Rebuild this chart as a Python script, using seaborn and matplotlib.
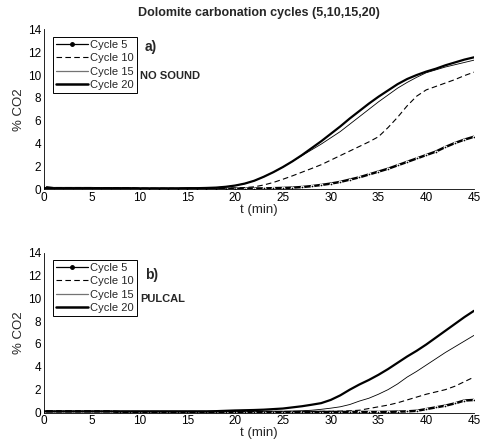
import matplotlib
matplotlib.use("Agg")
import matplotlib.pyplot as plt
from matplotlib.lines import Line2D
import seaborn as sns
import numpy as np

# time axis (min)
t = list(range(46))

# panel a) NO SOUND
a_c5 = [0.2, 0.1, 0.1, 0.1, 0.1, 0.1, 0.08, 0.08, 0.08, 0.08, 0.06, 0.05, 0.05, 0.05, 0.05, 0.05,
        0.05, 0.05, 0.05, 0.05, 0.06, 0.06, 0.07, 0.08, 0.1, 0.12, 0.15, 0.2, 0.28, 0.38,
        0.5, 0.65, 0.85, 1.05, 1.3, 1.55, 1.8, 2.1, 2.4, 2.7, 3.0, 3.3, 3.7, 4.05, 4.35, 4.6]
a_c10 = [0.1, 0.1, 0.1, 0.1, 0.1, 0.1, 0.1, 0.1, 0.1, 0.1, 0.08, 0.08, 0.08, 0.08, 0.08, 0.08,
         0.08, 0.08, 0.09, 0.1, 0.12, 0.15, 0.22, 0.38, 0.6, 0.88, 1.18, 1.5, 1.82, 2.15,
         2.55, 2.95, 3.35, 3.75, 4.15, 4.6, 5.4, 6.3, 7.3, 8.15, 8.7, 9.0, 9.3, 9.6, 9.95, 10.25]
a_c15 = [0.1, 0.1, 0.1, 0.1, 0.1, 0.1, 0.1, 0.1, 0.1, 0.1, 0.08, 0.08, 0.08, 0.08, 0.08, 0.1,
         0.1, 0.12, 0.15, 0.22, 0.33, 0.5, 0.75, 1.1, 1.5, 1.95, 2.45, 2.95, 3.45, 3.95,
         4.5, 5.05, 5.7, 6.35, 7.0, 7.65, 8.25, 8.85, 9.35, 9.8, 10.2, 10.45, 10.7, 10.9, 11.1, 11.3]
a_c20 = [0.1, 0.1, 0.1, 0.1, 0.1, 0.1, 0.1, 0.1, 0.1, 0.1, 0.08, 0.08, 0.08, 0.08, 0.08, 0.1,
         0.1, 0.12, 0.15, 0.22, 0.33, 0.5, 0.75, 1.1, 1.5, 1.95, 2.45, 3.0, 3.6, 4.2,
         4.85, 5.5, 6.2, 6.85, 7.5, 8.1, 8.65, 9.2, 9.65, 10.0, 10.3, 10.55, 10.85, 11.1, 11.35, 11.55]

# panel b) PULCAL
b_c5 = [0.1, 0.1, 0.1, 0.1, 0.1, 0.1, 0.1, 0.1, 0.05, 0.05, 0.05, 0.05, 0.05, 0.05, 0.05, 0.05,
        0.05, 0.05, 0.05, 0.05, 0.05, 0.05, 0.05, 0.05, 0.05, 0.05, 0.05, 0.05, 0.05, 0.05,
        0.05, 0.05, 0.05, 0.05, 0.05, 0.05, 0.06, 0.08, 0.1, 0.15, 0.3, 0.45, 0.6, 0.8, 1.05, 1.1]
b_c10 = [0.1, 0.1, 0.1, 0.1, 0.1, 0.1, 0.1, 0.1, 0.08, 0.08, 0.08, 0.08, 0.08, 0.08, 0.08, 0.08,
         0.08, 0.08, 0.08, 0.08, 0.08, 0.08, 0.08, 0.08, 0.08, 0.08, 0.08, 0.08, 0.08, 0.1,
         0.1, 0.12, 0.15, 0.2, 0.35, 0.5, 0.65, 0.85, 1.1, 1.35, 1.6, 1.8, 2.0, 2.3, 2.7, 3.1]
b_c15 = [0.1, 0.1, 0.1, 0.1, 0.1, 0.1, 0.1, 0.1, 0.1, 0.1, 0.1, 0.1, 0.1, 0.1, 0.1, 0.1,
         0.1, 0.1, 0.1, 0.1, 0.1, 0.1, 0.1, 0.1, 0.1, 0.1, 0.12, 0.15, 0.2, 0.28,
         0.38, 0.5, 0.7, 1.0, 1.25, 1.6, 2.0, 2.5, 3.1, 3.6, 4.15, 4.7, 5.25, 5.75, 6.25, 6.75]
b_c20 = [0.1, 0.1, 0.1, 0.1, 0.1, 0.1, 0.1, 0.1, 0.1, 0.1, 0.1, 0.1, 0.1, 0.1, 0.1, 0.1,
         0.1, 0.1, 0.12, 0.15, 0.18, 0.2, 0.22, 0.25, 0.3, 0.35, 0.45, 0.55, 0.68, 0.82,
         1.1, 1.5, 2.0, 2.45, 2.85, 3.3, 3.8, 4.35, 4.9, 5.4, 5.95, 6.55, 7.15, 7.75, 8.35, 8.9]

labels = ["Cycle 5", "Cycle 10", "Cycle 15", "Cycle 20"]
panels = [([a_c5, a_c10, a_c15, a_c20], "a)", "NO SOUND"),
          ([b_c5, b_c10, b_c15, b_c20], "b)", "PULCAL")]

sns.set_style("white")
plt.rcParams['font.family'] = ['Liberation Sans', 'DejaVu Sans']

# plot styles and legend styles (cycle 5 is drawn heavy in the plot, thin in the legend)
plot_styles = [dict(lw=1.8, ls='-', marker='.', ms=4),
               dict(lw=0.8, ls=(0, (5, 3))),
               dict(lw=0.6, ls='-'),
               dict(lw=1.6, ls='-')]
leg_styles = [dict(lw=0.9, ls='-', marker='.', ms=5),
              dict(lw=0.8, ls=(0, (5, 3))),
              dict(lw=0.9, ls='-', color='0.45'),
              dict(lw=1.8, ls='-')]

fig = plt.figure(figsize=(4.8, 4.44), dpi=100)
ax_top = fig.add_axes([0.0917, 0.5736, 0.8958, 0.3604])
ax_bot = fig.add_axes([0.0917, 0.0709, 0.8958, 0.3604])

for ax, (series, tag, note), tagy in zip([ax_top, ax_bot], panels, [0.89, 0.86]):
    for y, st in zip(series, plot_styles):
        sns.lineplot(x=t, y=y, ax=ax, color='k', legend=False, **st)
    ax.set_xlim(0, 45)
    ax.set_ylim(0, 14)
    ax.set_xticks(np.arange(0, 46, 5))
    ax.set_yticks(np.arange(0, 15, 2))
    ax.tick_params(direction='in', length=3, width=0.6, labelsize=8.5, colors='k', pad=2)
    for s in ['top', 'right']:
        ax.spines[s].set_visible(False)
    for s in ['left', 'bottom']:
        ax.spines[s].set_color('k')
        ax.spines[s].set_linewidth(0.6)
    ax.set_xlabel("t (min)", fontsize=9.5, labelpad=0)
    ax.set_ylabel("% CO2", fontsize=9.5, labelpad=2)
    handles = [Line2D([], [], **dict(dict(color='k'), **st)) for st in leg_styles]
    leg = ax.legend(handles, labels, loc='upper left', bbox_to_anchor=(0.02, 0.955),
                    borderaxespad=0, fontsize=8.0, handlelength=2.9, handletextpad=0.2,
                    labelspacing=0.3, borderpad=0.3, fancybox=False, framealpha=1,
                    numpoints=1)
    leg.get_frame().set_edgecolor('k')
    leg.get_frame().set_linewidth(0.7)
    ax.text(0.235, tagy, tag, transform=ax.transAxes, fontsize=10, fontweight='bold',
            va='center', ha='left')
    ax.text(0.224, 0.708, note, transform=ax.transAxes, fontsize=8, fontweight='bold',
            va='center', ha='left')

fig.text(0.54, 0.97, "Dolomite carbonation cycles (5,10,15,20)", fontsize=9,
         fontweight='bold', ha='center', va='center')

fig.savefig("out.png", dpi=100)
